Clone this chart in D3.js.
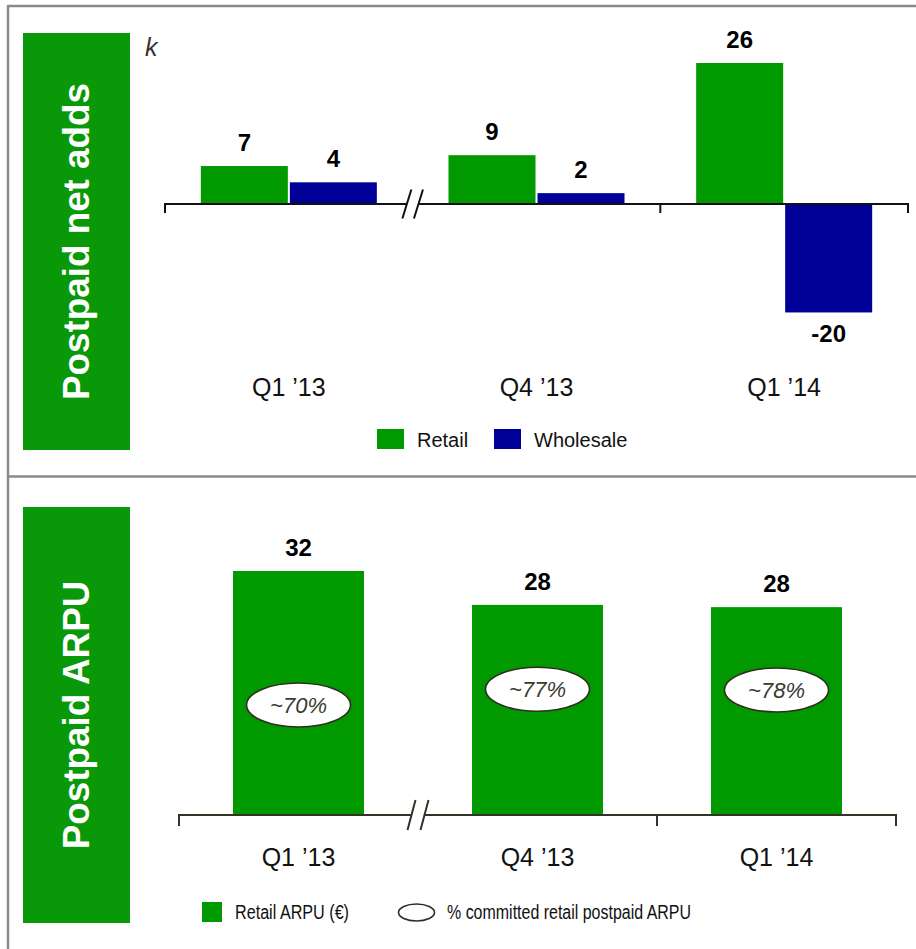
<!DOCTYPE html>
<html>
<head>
<meta charset="utf-8">
<script src="https://cdn.jsdelivr.net/npm/d3@7"></script>
<style>
  html, body { margin: 0; padding: 0; background: #fff; }
  svg { display: block; font-family: "Liberation Sans", Arial, sans-serif; }
</style>
</head>
<body>
<svg id="chart" width="916" height="949"></svg>
<script>
// ---- data ----
const quarters = ["Q1 \u201913", "Q4 \u201913", "Q1 \u201914"];
const netAddSeries = ["Retail", "Wholesale"];
const retailNetAdds = [7, 9, 26];          // thousands
const wholesaleNetAdds = [4, 2, -20];      // thousands
const retailArpu = [32.4, 27.9, 27.6];     // EUR
const committedShare = [70, 77, 78];       // % of retail postpaid ARPU
const committedLabelLevel = [14.6, 16.7, 16.6]; // ARPU level at which each share bubble sits
const panelTitles = ["Postpaid net adds", "Postpaid ARPU"];
const arpuLegend = ["Retail ARPU (\u20ac)", "% committed retail postpaid ARPU"];

// ---- styles ----
const GREEN = "#009900";
const BOX_GREEN = "#089808";
const BLUE = "#000099";
const FRAME = "#8a8a8a";
const seriesColor = { Retail: GREEN, Wholesale: BLUE };

const svg = d3.select("#chart");

// ---- frame ----
const frame = svg.append("g").attr("stroke", FRAME).attr("stroke-width", 2.5);
frame.append("line").attr("x1", 8).attr("x2", 916).attr("y1", 6).attr("y2", 6);
frame.append("line").attr("x1", 8).attr("x2", 8).attr("y1", 5).attr("y2", 949);
frame.append("line").attr("x1", 8).attr("x2", 916).attr("y1", 476.5).attr("y2", 476.5);

// ---- panel title boxes ----
const boxes = [{ y: 33, h: 417 }, { y: 507, h: 416 }];
boxes.forEach((b, i) => {
  svg.append("rect").attr("x", 23).attr("y", b.y).attr("width", 107).attr("height", b.h)
    .attr("fill", BOX_GREEN);
  const cx = 89, cy = b.y + b.h / 2;
  svg.append("text")
    .attr("transform", `translate(${cx},${cy}) rotate(-90)`)
    .attr("text-anchor", "middle")
    .attr("fill", "#fff").attr("font-weight", "bold").attr("font-size", 36.8)
    .text(panelTitles[i]);
});

// helper: baseline with a break at one band boundary
function drawAxis(g, x, y, color, tickLen, breakIndex, slashDx, slashDy, slashGap) {
  const [x0, x1] = x.range();
  const bounds = x.domain().map(d => x(d)).concat([x1]);
  const bx = bounds[breakIndex];
  const s1 = bx - slashGap / 2, s2 = bx + slashGap / 2;
  const ax = g.append("g").attr("stroke", color).attr("stroke-width", 2).attr("fill", "none");
  ax.append("line").attr("x1", x0).attr("x2", s1).attr("y1", y).attr("y2", y);
  ax.append("line").attr("x1", s2).attr("x2", x1).attr("y1", y).attr("y2", y);
  bounds.forEach((b, i) => {
    if (i === breakIndex) return;
    ax.append("line").attr("x1", b).attr("x2", b).attr("y1", y - 1).attr("y2", y + tickLen);
  });
  [s1, s2].forEach(sx => {
    ax.append("line")
      .attr("x1", sx - slashDx).attr("y1", y + slashDy)
      .attr("x2", sx + slashDx).attr("y2", y - slashDy);
  });
}

// ================= Postpaid net adds =================
const netPanel = svg.append("g");
const topAxisY = 204;
const xTop = d3.scaleBand().domain(quarters).range([165, 908]);
const xSeries = d3.scaleBand().domain(netAddSeries)
  .range([0, xTop.bandwidth()]).paddingInner(0.0225).paddingOuter(0.4026);
const yTop = d3.scaleLinear().domain([0, d3.max(retailNetAdds)]).range([topAxisY, 63]);

const netRows = [];
quarters.forEach((q, i) => {
  netRows.push({ q, s: "Retail", v: retailNetAdds[i] });
  netRows.push({ q, s: "Wholesale", v: wholesaleNetAdds[i] });
});

netPanel.selectAll("rect.bar").data(netRows).join("rect")
  .attr("class", "bar")
  .attr("x", d => xTop(d.q) + xSeries(d.s))
  .attr("width", xSeries.bandwidth())
  .attr("y", d => yTop(Math.max(0, d.v)))
  .attr("height", d => Math.abs(yTop(d.v) - yTop(0)))
  .attr("fill", d => seriesColor[d.s]);

netPanel.selectAll("text.val").data(netRows).join("text")
  .attr("class", "val")
  .attr("x", d => xTop(d.q) + xSeries(d.s) + xSeries.bandwidth() / 2)
  .attr("y", d => d.v >= 0 ? yTop(d.v) - 15 : yTop(d.v) + 30)
  .attr("text-anchor", "middle").attr("font-weight", "bold").attr("font-size", 24)
  .attr("fill", "#000")
  .text(d => String(d.v));

drawAxis(netPanel, xTop, topAxisY, "#111", 9, 1, 4.5, 14.5, 11.6);

netPanel.selectAll("text.cat").data(quarters).join("text")
  .attr("class", "cat")
  .attr("x", d => xTop(d) + xTop.bandwidth() / 2)
  .attr("y", 396)
  .attr("text-anchor", "middle").attr("font-size", 25).attr("fill", "#111")
  .text(d => d);

netPanel.append("text").attr("x", 145).attr("y", 56)
  .attr("font-style", "italic").attr("font-size", 25).attr("fill", "#333")
  .text("k");

// legend
const netLegendX = [377, 494];
netAddSeries.forEach((s, i) => {
  netPanel.append("rect").attr("x", netLegendX[i]).attr("y", 429).attr("width", 27).attr("height", 20)
    .attr("fill", seriesColor[s]);
  netPanel.append("text").attr("x", netLegendX[i] + 40).attr("y", 447)
    .attr("font-size", 20).attr("fill", "#111").text(s);
});

// ================= Postpaid ARPU =================
const arpuPanel = svg.append("g");
const botAxisY = 815;
const xBot = d3.scaleBand().domain(quarters).range([179, 896]);
const barW = 131;
const yBot = d3.scaleLinear().domain([0, d3.max(retailArpu)]).range([botAxisY, 571]);

const arpuRows = quarters.map((q, i) => ({
  q, v: retailArpu[i], share: committedShare[i], at: committedLabelLevel[i]
}));
const cxBot = d => xBot(d.q) + xBot.bandwidth() / 2;

arpuPanel.selectAll("rect.bar").data(arpuRows).join("rect")
  .attr("class", "bar")
  .attr("x", d => cxBot(d) - barW / 2)
  .attr("width", barW)
  .attr("y", d => yBot(d.v))
  .attr("height", d => yBot(0) - yBot(d.v))
  .attr("fill", GREEN);

arpuPanel.selectAll("text.val").data(arpuRows).join("text")
  .attr("class", "val")
  .attr("x", cxBot)
  .attr("y", d => yBot(d.v) - 15)
  .attr("text-anchor", "middle").attr("font-weight", "bold").attr("font-size", 24)
  .attr("fill", "#000")
  .text(d => d3.format(".0f")(d.v));

const bubbles = arpuPanel.selectAll("g.bubble").data(arpuRows).join("g")
  .attr("class", "bubble")
  .attr("transform", d => `translate(${cxBot(d)},${yBot(d.at)})`);
bubbles.append("ellipse").attr("rx", 52).attr("ry", 22)
  .attr("fill", "#fff").attr("stroke", "#2e2e22").attr("stroke-width", 1.6);
bubbles.append("text")
  .attr("text-anchor", "middle").attr("dy", 8)
  .attr("font-style", "italic").attr("font-size", 22).attr("fill", "#3a3a30")
  .text(d => `~${d.share}%`);

drawAxis(arpuPanel, xBot, botAxisY, "#333326", 11, 1, 4, 15, 13);

arpuPanel.selectAll("text.cat").data(quarters).join("text")
  .attr("class", "cat")
  .attr("x", d => xBot(d) + xBot.bandwidth() / 2)
  .attr("y", 866)
  .attr("text-anchor", "middle").attr("font-size", 25).attr("fill", "#111")
  .text(d => d);

// legend (condensed text)
arpuPanel.append("rect").attr("x", 202).attr("y", 902).attr("width", 20).attr("height", 20).attr("fill", GREEN);
arpuPanel.append("text").attr("x", 235).attr("y", 919)
  .attr("font-size", 20).attr("fill", "#111")
  .attr("textLength", 114).attr("lengthAdjust", "spacingAndGlyphs")
  .text(arpuLegend[0]);
arpuPanel.append("ellipse").attr("cx", 416.5).attr("cy", 912.5).attr("rx", 18).attr("ry", 8.5)
  .attr("fill", "#fff").attr("stroke", "#2e2e22").attr("stroke-width", 1.6);
arpuPanel.append("text").attr("x", 447).attr("y", 919)
  .attr("font-size", 20).attr("fill", "#111")
  .attr("textLength", 244).attr("lengthAdjust", "spacingAndGlyphs")
  .text(arpuLegend[1]);
</script>
</body>
</html>
